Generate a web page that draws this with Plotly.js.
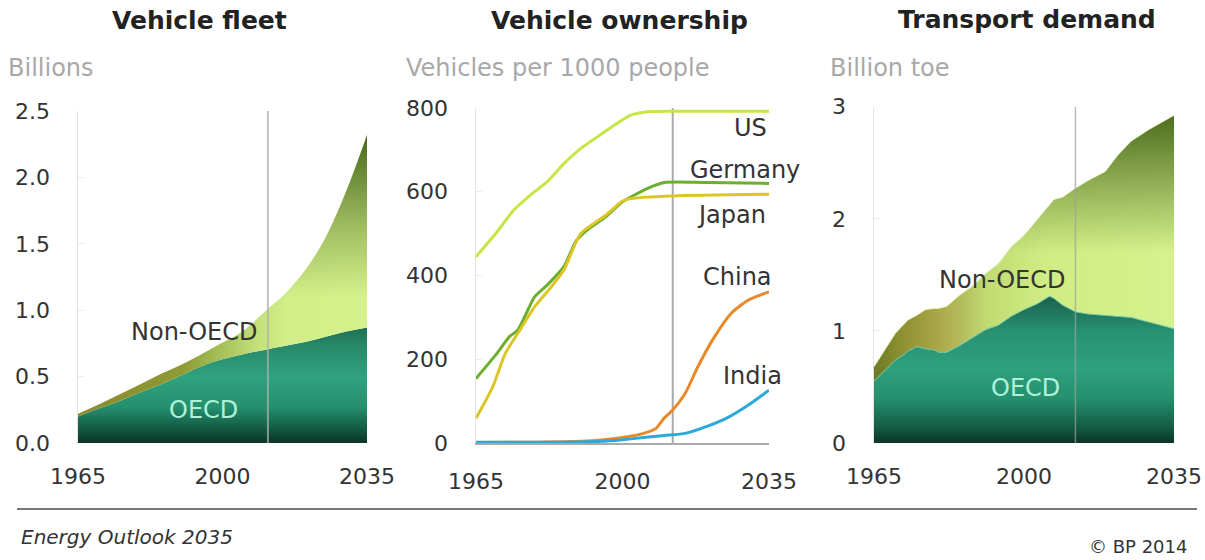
<!DOCTYPE html>
<html>
<head>
<meta charset="utf-8">
<script src="https://cdn.plot.ly/plotly-3.0.1.min.js"></script>
<style>html,body{margin:0;padding:0;background:#fff;}#chart{width:1205px;height:560px;}</style>
</head>
<body>
<div id="chart"></div>
<script>
// ---------- Panel 1: Vehicle fleet (billions) ----------
const fleetYears = [1965,1970,1975,1980,1985,1990,1995,2000,2005,2011,2015,2020,2025,2030,2035];
const fleetOECD = [0.20,0.26,0.315,0.38,0.44,0.51,0.58,0.63,0.668,0.706,0.73,0.76,0.80,0.84,0.87];
const fleetNonOECD = [0.02,0.03,0.05,0.06,0.08,0.08,0.09,0.126,0.176,0.304,0.39,0.54,0.75,1.06,1.45];

// ---------- Panel 2: Vehicle ownership (vehicles per 1000 people) ----------
const usYears = [1965,1970,1974,1978,1982,1986,1990,1994,1998,2002,2006,2012,2020,2035];
const usVals = [445,504,556,592,624,667,703,731,759,783,791,792,792,792];
const deYears = [1965,1970,1973,1975,1979,1982,1986,1989,1992,1996,2000,2006,2010,2020,2035];
const deVals = [154,214,254,270,349,377,421,484,512,540,576,608,622,622,620];
const jpYears = [1965,1969,1972,1975,1979,1983,1986,1990,1996,2000,2002,2012,2035];
const jpVals = [59,134,214,262,325,373,413,500,544,578,584,590,594];
const cnYears = [1965,1980,1990,1995,2000,2005,2008,2010,2012,2015,2018,2022,2026,2030,2035];
const cnVals = [1,2,4,7,13,23,35,60,79,119,182,254,310,341,361];
const inYears = [1965,1985,1995,2000,2005,2010,2015,2020,2025,2030,2035];
const inVals = [2,2,4,8,13,18,23,39,60,90,126];

// ---------- Panel 3: Transport demand (billion toe) ----------
const demandYears = [1965,1968,1970,1972,1973,1975,1977,1979,1980,1982,1985,1988,1991,1994,1997,2000,2003,2006,2007,2009,2012,2015,2019,2022,2025,2029,2035];
const demandOECD = [0.55,0.66,0.74,0.79,0.82,0.86,0.84,0.83,0.81,0.81,0.87,0.94,1.01,1.05,1.13,1.19,1.24,1.31,1.29,1.23,1.17,1.15,1.14,1.13,1.12,1.08,1.02];
const demandNonOECD = [0.13,0.20,0.24,0.27,0.28,0.28,0.35,0.37,0.39,0.41,0.45,0.46,0.50,0.55,0.62,0.66,0.75,0.82,0.88,0.96,1.10,1.19,1.28,1.44,1.57,1.71,1.90];

const xTicks = [1965, 2000, 2035];
const baseYearFleet = 2011;
const baseYear = 2012;

const FONT = 'DejaVu Sans, Verdana, sans-serif';
const oecdGrad1 = {type:'vertical', start:0, stop:0.9,
  colorscale:[[0,'#0b3526'],[0.12,'#135a42'],[0.3,'#25906e'],[0.55,'#2fa27e'],[0.8,'#288b6b'],[1,'#1d6a50']]};
const oecdGrad3 = {type:'vertical', start:0, stop:1.32,
  colorscale:[[0,'#0b3526'],[0.1,'#135a42'],[0.3,'#25906e'],[0.5,'#2ea07c'],[0.75,'#289272'],[1,'#1a5e4c']]};

const traces = [
  // panel 1
  {x:fleetYears, y:fleetOECD, xaxis:'x', yaxis:'y', stackgroup:'f1', mode:'lines',
   line:{width:0, shape:'spline'}, fillgradient:oecdGrad1, hoverinfo:'skip'},
  {x:fleetYears, y:fleetNonOECD, xaxis:'x', yaxis:'y', stackgroup:'f1', mode:'lines',
   line:{width:0, shape:'spline'}, hoverinfo:'skip',
   fillgradient:{type:'horizontal', start:1965, stop:2035,
     colorscale:[[0,'#8a8a2c'],[0.36,'#8f9a35'],[0.5,'#a7c25a'],[0.62,'#c4e07a'],[0.72,'#d2ee88'],[1,'#d6f28c']]}},
  {x:fleetYears, y:fleetOECD, xaxis:'x', yaxis:'y', stackgroup:'f1b', mode:'lines',
   line:{width:0, shape:'spline'}, fillcolor:'rgba(0,0,0,0)', hoverinfo:'skip'},
  {x:fleetYears, y:fleetNonOECD, xaxis:'x', yaxis:'y', stackgroup:'f1b', mode:'lines',
   line:{width:0, shape:'spline'}, hoverinfo:'skip',
   fillgradient:{type:'vertical', start:1.1, stop:2.32,
     colorscale:[[0,'rgba(72,104,28,0)'],[0.4,'rgba(72,104,28,0.35)'],[1,'rgba(72,104,28,1)']]}},
  // panel 2
  {x:usYears, y:usVals, xaxis:'x2', yaxis:'y2', mode:'lines', line:{color:'#c6e646', width:3, shape:'spline', smoothing:0.6}, hoverinfo:'skip'},
  {x:deYears, y:deVals, xaxis:'x2', yaxis:'y2', mode:'lines', line:{color:'#6cae2f', width:3, shape:'spline', smoothing:0.6}, hoverinfo:'skip'},
  {x:jpYears, y:jpVals, xaxis:'x2', yaxis:'y2', mode:'lines', line:{color:'#dcc626', width:3, shape:'spline', smoothing:0.6}, hoverinfo:'skip'},
  {x:cnYears, y:cnVals, xaxis:'x2', yaxis:'y2', mode:'lines', line:{color:'#e8892a', width:3, shape:'spline', smoothing:0.6}, hoverinfo:'skip'},
  {x:inYears, y:inVals, xaxis:'x2', yaxis:'y2', mode:'lines', line:{color:'#2aaad8', width:3, shape:'spline', smoothing:0.6}, hoverinfo:'skip'},
  // panel 3
  {x:demandYears, y:demandOECD, xaxis:'x3', yaxis:'y3', stackgroup:'d3', mode:'lines',
   line:{width:1, color:'#6cc9a5'}, fillgradient:oecdGrad3, hoverinfo:'skip'},
  {x:demandYears, y:demandNonOECD, xaxis:'x3', yaxis:'y3', stackgroup:'d3', mode:'lines',
   line:{width:1, color:'#e4f4b8'}, hoverinfo:'skip',
   fillgradient:{type:'horizontal', start:1965, stop:2035,
     colorscale:[[0,'#6e7a24'],[0.1,'#8f9233'],[0.21,'#aaa548'],[0.3,'#b5c060'],[0.38,'#c2dc72'],[0.57,'#d0ec84'],[1,'#d6f28e']]}},
  {x:demandYears, y:demandOECD, xaxis:'x3', yaxis:'y3', stackgroup:'d3b', mode:'lines',
   line:{width:0}, fillcolor:'rgba(0,0,0,0)', hoverinfo:'skip'},
  {x:demandYears, y:demandNonOECD, xaxis:'x3', yaxis:'y3', stackgroup:'d3b', mode:'lines',
   line:{width:0}, hoverinfo:'skip',
   fillgradient:{type:'vertical', start:1.7, stop:2.95,
     colorscale:[[0,'rgba(74,106,28,0)'],[0.4,'rgba(74,106,28,0.4)'],[1,'rgba(74,106,28,1)']]}}
];

const W = 1205, H = 560;
const px = v => v / W;
const py = v => 1 - v / H;

function xax(l, r) {
  return {domain:[px(l), px(r)], range:[1965, 2035], tickvals:xTicks, ticktext:xTicks.map(String),
    showgrid:false, zeroline:false, showline:false, ticks:'', ticklabelstandoff:18,
    tickfont:{family:FONT, size:22, color:'#333'}, fixedrange:true};
}
function yax(top, range, vals, fmt, anchor) {
  return {domain:[py(443), py(top)], range:range, tickvals:vals, tickformat:fmt, anchor:anchor,
    showgrid:false, zeroline:false, showline:true, linecolor:'#e3e3e3', linewidth:1.5,
    ticks:'inside', ticklen:6, tickcolor:'#ececec', ticklabelstandoff:22,
    tickfont:{family:FONT, size:22, color:'#333'}, fixedrange:true};
}

const layout = {
  width:W, height:H, margin:{l:0, r:0, t:0, b:0}, showlegend:false,
  paper_bgcolor:'#fff', plot_bgcolor:'rgba(0,0,0,0)',
  xaxis:Object.assign(xax(78, 367), {anchor:'y'}),
  xaxis2:Object.assign(xax(476, 769), {anchor:'y2', showline:true, linecolor:'#aaaaaa', linewidth:1.5}),
  xaxis3:Object.assign(xax(874, 1174), {anchor:'y3'}),
  yaxis:yax(111, [0, 2.5], [0,0.5,1,1.5,2,2.5], '.1f', 'x'),
  yaxis2:yax(108, [0, 800], [0,200,400,600,800], 'd', 'x2'),
  yaxis3:yax(106.7, [0, 3], [0,1,2,3], 'd', 'x3'),
  shapes:[
    {type:'line', xref:'x', yref:'y domain', x0:baseYearFleet, x1:baseYearFleet, y0:0, y1:1, layer:'above', line:{color:'rgba(175,175,175,0.75)', width:2}},
    {type:'line', xref:'x2', yref:'y2 domain', x0:baseYear, x1:baseYear, y0:0, y1:1, layer:'below', line:{color:'#aaaaaa', width:2}},
    {type:'line', xref:'x3', yref:'y3 domain', x0:baseYear, x1:baseYear, y0:0, y1:1, layer:'above', line:{color:'rgba(160,160,160,0.7)', width:1.5}},
    {type:'line', xref:'paper', yref:'paper', x0:px(17), x1:px(1197), y0:py(509), y1:py(509), line:{color:'#777', width:2}}
  ],
  annotations:[
    {text:'<b>Vehicle fleet</b>', xref:'paper', yref:'paper', x:px(199.5), y:py(21), xanchor:'center', yanchor:'middle', showarrow:false, font:{family:FONT, size:25, color:'#222'}},
    {text:'<b>Vehicle ownership</b>', xref:'paper', yref:'paper', x:px(620), y:py(21), xanchor:'center', yanchor:'middle', showarrow:false, font:{family:FONT, size:25, color:'#222'}},
    {text:'<b>Transport demand</b>', xref:'paper', yref:'paper', x:px(1027), y:py(20), xanchor:'center', yanchor:'middle', showarrow:false, font:{family:FONT, size:25, color:'#222'}},
    {text:'Billions', xref:'paper', yref:'paper', x:px(6), y:py(68), xanchor:'left', yanchor:'middle', showarrow:false, font:{family:FONT, size:24, color:'#a8a8a8'}},
    {text:'Vehicles per 1000 people', xref:'paper', yref:'paper', x:px(404), y:py(68), xanchor:'left', yanchor:'middle', showarrow:false, font:{family:FONT, size:24, color:'#a8a8a8'}},
    {text:'Billion toe', xref:'paper', yref:'paper', x:px(828), y:py(68), xanchor:'left', yanchor:'middle', showarrow:false, font:{family:FONT, size:24, color:'#a8a8a8'}},
    // panel 1 labels
    {text:'Non-OECD', xref:'x', yref:'y', x:1993.1, y:0.836, showarrow:false, font:{family:FONT, size:24, color:'#333'}},
    {text:'OECD', xref:'x', yref:'y', x:1995.3, y:0.25, showarrow:false, font:{family:FONT, size:24, color:'#aef2da'}},
    // panel 2 labels
    {text:'US', xref:'x2', yref:'y2', x:2030.6, y:753, showarrow:false, font:{family:FONT, size:24, color:'#333'}},
    {text:'Germany', xref:'x2', yref:'y2', x:2029.2, y:651, showarrow:false, font:{family:FONT, size:24, color:'#333'}},
    {text:'Japan', xref:'x2', yref:'y2', x:2026, y:544, showarrow:false, font:{family:FONT, size:24, color:'#333'}},
    {text:'China', xref:'x2', yref:'y2', x:2027.4, y:397, showarrow:false, font:{family:FONT, size:24, color:'#333'}},
    {text:'India', xref:'x2', yref:'y2', x:2031.1, y:160, showarrow:false, font:{family:FONT, size:24, color:'#333'}},
    // panel 3 labels
    {text:'Non-OECD', xref:'x3', yref:'y3', x:1994.9, y:1.454, showarrow:false, font:{family:FONT, size:24, color:'#333'}},
    {text:'OECD', xref:'x3', yref:'y3', x:2000.4, y:0.488, showarrow:false, font:{family:FONT, size:24, color:'#aef2da'}},
    // footer
    {text:'<i>Energy Outlook 2035</i>', xref:'paper', yref:'paper', x:px(19), y:py(537), xanchor:'left', yanchor:'middle', showarrow:false, font:{family:FONT, size:20, color:'#333'}},
    {text:'© BP 2014', xref:'paper', yref:'paper', x:px(1189), y:py(546), xanchor:'right', yanchor:'middle', showarrow:false, font:{family:FONT, size:18, color:'#333'}}
  ]
};

Plotly.newPlot('chart', traces, layout, {displayModeBar:false, staticPlot:true});
</script>
</body>
</html>
